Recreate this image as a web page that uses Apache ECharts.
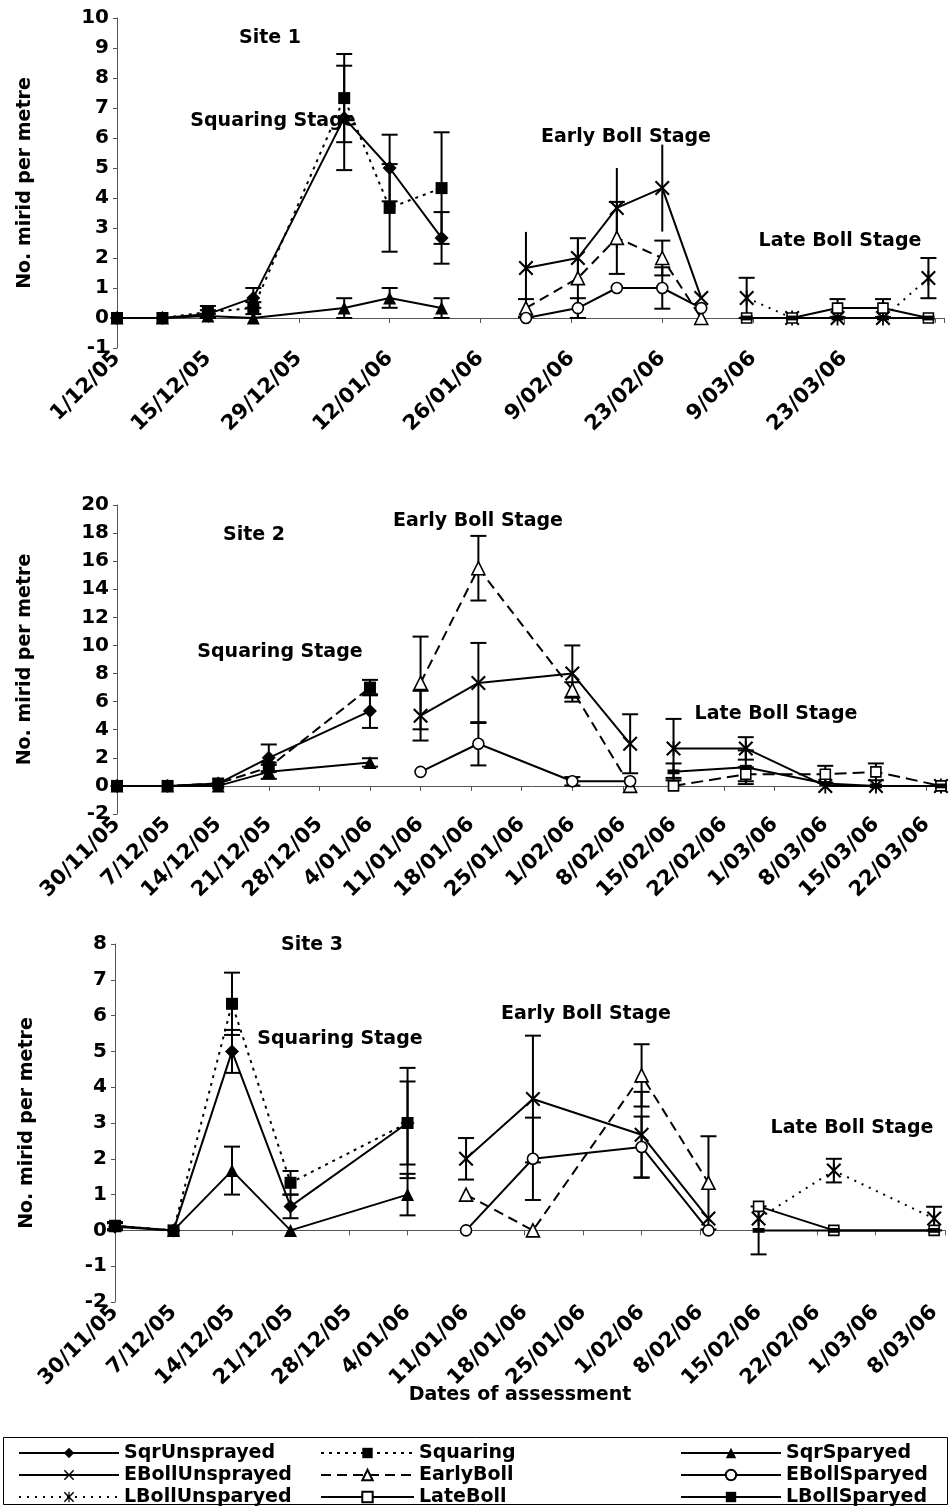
<!DOCTYPE html>
<html>
<head>
<meta charset="utf-8">
<script src="https://cdn.jsdelivr.net/npm/echarts@6/dist/echarts.min.js"></script>
<style>
html,body{margin:0;padding:0;background:#fff;}
#chart{width:951px;height:1506px;}
</style>
</head>
<body>
<div id="chart"></div>
<script>
// ---------------- DATA ----------------
// x values are days after the first tick date of each site's axis
// Site 1 (axis starts 1/12/05, ticks every 14 days)
const s1TickLabels = ['1/12/05','15/12/05','29/12/05','12/01/06','26/01/06','9/02/06','23/02/06','9/03/06','23/03/06'];
const s1SqrDays = [0, 7, 14, 21, 35, 42, 50];
const s1SqrUnsprayed   = [0, 0, 0.13, 0.67, 6.67, 5.00, 2.67];
const s1SqrUnsprayedSE = [0, 0, 0.13, 0.33, 1.74, 1.11, 0.86];
const s1Squaring       = [0, 0, 0.20, 0.33, 7.33, 3.67, 4.33];
const s1SquaringSE     = [0, 0, 0.20, 0.20, 1.47, 1.46, 1.86];
const s1SqrSparyed     = [0, 0, 0.07, 0, 0.33, 0.67, 0.33];
const s1SqrSparyedSE   = [0, 0, 0.07, 0, 0.33, 0.33, 0.33];
const s1EbDays = [63, 71, 77, 84, 90];
const s1EBollUnsprayed   = [1.67, 2.00, 3.67, 4.33, 0.67];
const s1EBollUnsprayedSE = [1.20, 0.58, 1.33, 1.45, 0];
const s1EarlyBoll        = [0.33, 1.33, 2.67, 2.00, 0];
const s1EarlyBollSE      = [0.30, 1.33, 1.20, 0.58, 0];
const s1EBollSparyed     = [0, 0.33, 1.00, 1.00, 0.33];
const s1EBollSparyedSE   = [0, 0.33, 0, 0.69, 0];
const s1LbDays = [97, 104, 111, 118, 125];
const s1LBollUnsparyed   = [0.67, 0, 0, 0, 1.33];
const s1LBollUnsparyedSE = [0.67, 0, 0, 0, 0.67];
const s1LateBoll         = [0, 0, 0.33, 0.33, 0];
const s1LateBollSE       = [0, 0, 0.30, 0.30, 0];
const s1LBollSparyed     = [0, 0, 0, 0, 0];
const s1LBollSparyedSE   = [0, 0, 0, 0, 0];

// Site 2 (axis starts 30/11/05, ticks every 7 days)
const s2TickLabels = ['30/11/05','7/12/05','14/12/05','21/12/05','28/12/05','4/01/06','11/01/06','18/01/06','25/01/06','1/02/06','8/02/06','15/02/06','22/02/06','1/03/06','8/03/06','15/03/06','22/03/06'];
const s2SqrDays = [0, 7, 14, 21, 35];
const s2SqrUnsprayed   = [0, 0, 0.17, 2.00, 5.33];
const s2SqrUnsprayedSE = [0, 0, 0, 0.95, 1.20];
const s2Squaring       = [0, 0, 0.17, 1.33, 7.00];
const s2SquaringSE     = [0, 0, 0, 0.33, 0.55];
const s2SqrSparyed     = [0, 0, 0, 1.00, 1.67];
const s2SqrSparyedSE   = [0, 0, 0, 0.50, 0.30];
const s2EbDays = [42, 50, 63, 71];
const s2EBollUnsprayed   = [5.00, 7.33, 8.00, 3.00];
const s2EBollUnsprayedSE = [1.77, 2.85, 2.00, 2.10];
const s2EarlyBoll        = [7.33, 15.50, 6.83, 0];
const s2EarlyBollSE      = [3.30, 2.30, 0.55, 0];
const s2EBollSparyed     = [1.00, 3.00, 0.33, 0.33];
const s2EBollSparyedSE   = [0, 1.54, 0.30, 0];
const s2LbDays = [77, 87, 98, 105, 114];
const s2LBollUnsparyed   = [2.67, 2.67, 0, 0, 0];
const s2LBollUnsparyedSE = [2.10, 0.80, 0, 0, 0];
const s2LateBoll         = [0, 0.83, 0.83, 1.00, 0];
const s2LateBollSE       = [0, 0.50, 0.60, 0.60, 0];
const s2LBollSparyed     = [1.00, 1.33, 0.17, 0, 0];
const s2LBollSparyedSE   = [0.60, 1.20, 0, 0, 0];

// Site 3 (axis starts 30/11/05, ticks every 7 days)
const s3TickLabels = ['30/11/05','7/12/05','14/12/05','21/12/05','28/12/05','4/01/06','11/01/06','18/01/06','25/01/06','1/02/06','8/02/06','15/02/06','22/02/06','1/03/06','8/03/06'];
const s3SqrDays = [0, 7, 14, 21, 35];
const s3SqrUnsprayed   = [0.10, 0, 5.00, 0.67, 3.00];
const s3SqrUnsprayedSE = [0.10, 0, 0.60, 0.33, 1.16];
const s3Squaring       = [0.13, 0, 6.33, 1.33, 3.00];
const s3SquaringSE     = [0.10, 0, 0.87, 0.33, 1.54];
const s3SqrSparyed     = [0.13, 0, 1.67, 0, 1.00];
const s3SqrSparyedSE   = [0.10, 0, 0.67, 0, 0.58];
const s3EbDays = [42, 50, 63, 71];
const s3EBollUnsprayed   = [2.00, 3.67, 2.67, 0.33];
const s3EBollUnsprayedSE = [0.58, 1.77, 1.20, 0];
const s3EarlyBoll        = [1.00, 0, 4.33, 1.33];
const s3EarlyBollSE      = [0, 0, 0.87, 1.30];
const s3EBollSparyed     = [0, 2.00, 2.33, 0];
const s3EBollSparyedSE   = [0, 1.15, 0.85, 0];
const s3LbDays = [77, 86, 98];
const s3LBollUnsparyed   = [0.33, 1.67, 0.33];
const s3LBollUnsparyedSE = [0, 0.33, 0.33];
const s3LateBoll         = [0.67, 0, 0];
const s3LateBollSE       = [0, 0, 0];
const s3LBollSparyed     = [0, 0, 0];
const s3LBollSparyedSE   = [0.67, 0, 0];

const legendCol1 = ['SqrUnsprayed', 'EBollUnsprayed', 'LBollUnsparyed'];
const legendCol2 = ['Squaring', 'EarlyBoll', 'LateBoll'];
const legendCol3 = ['SqrSparyed', 'EBollSparyed', 'LBollSparyed'];

// ---------------- STYLE ----------------
const FONT = '"DejaVu Sans", "Liberation Sans", sans-serif';
const X_PATH = 'path://M0,1L1,0L5,4L9,0L10,1L6,5L10,9L9,10L5,6L1,10L0,9L4,5Z';
const AST_PATH = 'path://M0,1L1,0L5,4L9,0L10,1L6,5L10,9L9,10L5,6L1,10L0,9L4,5Z M4.4,0L5.6,0L5.6,10L4.4,10Z';
const BAR_PATH = 'path://M0,0L10,0L10,4L0,4Z';
const BASE_STYLE = {
  SqrUnsprayed:   {symbol: 'diamond',  size: 14, fill: '#000', line: 'solid'},
  Squaring:       {symbol: 'rect',     size: 12, fill: '#000', line: [3, 5]},
  SqrSparyed:     {symbol: 'triangle', size: 13, fill: '#000', line: 'solid'},
  EBollUnsprayed: {symbol: X_PATH,     size: 15, fill: '#000', line: 'solid'},
  EarlyBoll:      {symbol: 'triangle', size: 13, fill: '#fff', line: [10, 6]},
  EBollSparyed:   {symbol: 'circle',   size: 11, fill: '#fff', line: 'solid'},
  LBollUnsparyed: {symbol: AST_PATH,   size: 15, fill: '#000', line: [2, 6]},
  LateBoll:       {symbol: 'rect',     size: 10, fill: '#fff', line: 'solid'},
  LBollSparyed:   {symbol: BAR_PATH,   size: 12, fill: '#000', line: 'solid'}
};
const PANEL_LINE = [
  {},
  {Squaring: [10, 5], LateBoll: [12, 6], LBollUnsparyed: 'solid'},
  {}
];
const CAPS = [
  {EBollUnsprayed: false},
  {},
  {}
];

// ---------------- BUILD ----------------
const panels = [
  {
    groups: [
      ['SqrUnsprayed', s1SqrDays, s1SqrUnsprayed, s1SqrUnsprayedSE],
      ['Squaring', s1SqrDays, s1Squaring, s1SquaringSE],
      ['SqrSparyed', s1SqrDays, s1SqrSparyed, s1SqrSparyedSE],
      ['EBollUnsprayed', s1EbDays, s1EBollUnsprayed, s1EBollUnsprayedSE],
      ['EarlyBoll', s1EbDays, s1EarlyBoll, s1EarlyBollSE],
      ['EBollSparyed', s1EbDays, s1EBollSparyed, s1EBollSparyedSE],
      ['LBollUnsparyed', s1LbDays, s1LBollUnsparyed, s1LBollUnsparyedSE],
      ['LateBoll', s1LbDays, s1LateBoll, s1LateBollSE],
      ['LBollSparyed', s1LbDays, s1LBollSparyed, s1LBollSparyedSE]
    ],
    ticks: s1TickLabels, interval: 14, xMax: 127.4, yMin: -1, yMax: 10, yInt: 1,
    grid: {left: 117, top: 18, width: 827, height: 330}, nameGap: 82
  },
  {
    groups: [
      ['SqrUnsprayed', s2SqrDays, s2SqrUnsprayed, s2SqrUnsprayedSE],
      ['Squaring', s2SqrDays, s2Squaring, s2SquaringSE],
      ['SqrSparyed', s2SqrDays, s2SqrSparyed, s2SqrSparyedSE],
      ['EBollUnsprayed', s2EbDays, s2EBollUnsprayed, s2EBollUnsprayedSE],
      ['EarlyBoll', s2EbDays, s2EarlyBoll, s2EarlyBollSE],
      ['EBollSparyed', s2EbDays, s2EBollSparyed, s2EBollSparyedSE],
      ['LBollUnsparyed', s2LbDays, s2LBollUnsparyed, s2LBollUnsparyedSE],
      ['LateBoll', s2LbDays, s2LateBoll, s2LateBollSE],
      ['LBollSparyed', s2LbDays, s2LBollSparyed, s2LBollSparyedSE]
    ],
    ticks: s2TickLabels, interval: 7, xMax: 114.7, yMin: -2, yMax: 20, yInt: 2,
    grid: {left: 117, top: 505, width: 829, height: 309}, nameGap: 82
  },
  {
    groups: [
      ['SqrUnsprayed', s3SqrDays, s3SqrUnsprayed, s3SqrUnsprayedSE],
      ['Squaring', s3SqrDays, s3Squaring, s3SquaringSE],
      ['SqrSparyed', s3SqrDays, s3SqrSparyed, s3SqrSparyedSE],
      ['EBollUnsprayed', s3EbDays, s3EBollUnsprayed, s3EBollUnsprayedSE],
      ['EarlyBoll', s3EbDays, s3EarlyBoll, s3EarlyBollSE],
      ['EBollSparyed', s3EbDays, s3EBollSparyed, s3EBollSparyedSE],
      ['LBollUnsparyed', s3LbDays, s3LBollUnsparyed, s3LBollUnsparyedSE],
      ['LateBoll', s3LbDays, s3LateBoll, s3LateBollSE],
      ['LBollSparyed', s3LbDays, s3LBollSparyed, s3LBollSparyedSE]
    ],
    ticks: s3TickLabels, interval: 7, xMax: 99.3, yMin: -2, yMax: 8, yInt: 1,
    grid: {left: 115, top: 944, width: 830, height: 358}, nameGap: 78
  }
];

function renderErr(params, api) {
  const x = api.value(0), lo = api.value(1), hi = api.value(2), cap = api.value(3);
  const a = api.coord([x, lo]), b = api.coord([x, hi]);
  const st = {stroke: '#000', lineWidth: 2};
  const ch = [{type: 'line', shape: {x1: a[0], y1: a[1], x2: b[0], y2: b[1]}, style: st}];
  if (cap) {
    ch.push({type: 'line', shape: {x1: a[0] - 8, y1: a[1], x2: a[0] + 8, y2: a[1]}, style: st});
    ch.push({type: 'line', shape: {x1: b[0] - 8, y1: b[1], x2: b[0] + 8, y2: b[1]}, style: st});
  }
  return {type: 'group', children: ch};
}

const grids = [], xAxes = [], yAxes = [], series = [];
const xLabelStyle = {fontFamily: FONT, fontWeight: 'bold', fontSize: 21, color: '#000'};
const yLabelStyle = {fontFamily: FONT, fontWeight: 'bold', fontSize: 20, color: '#000'};

panels.forEach((p, pi) => {
  grids.push(p.grid);
  xAxes.push({
    type: 'value', gridIndex: pi, min: 0, max: p.xMax, interval: p.interval,
    splitLine: {show: false},
    axisLine: {onZero: true, lineStyle: {color: '#555', width: 1}},
    axisTick: {show: true, length: 5, lineStyle: {color: '#555'}},
    axisLabel: Object.assign({
      rotate: 45, margin: 7, showMaxLabel: true,
      formatter: (v) => {
        const k = v / p.interval;
        if (Math.abs(k - Math.round(k)) > 0.01) return '';
        return p.ticks[Math.round(k)] || '';
      }
    }, xLabelStyle)
  });
  yAxes.push({
    type: 'value', gridIndex: pi, min: p.yMin, max: p.yMax, interval: p.yInt,
    splitLine: {show: false},
    axisLine: {show: true, onZero: false, lineStyle: {color: '#555', width: 1}},
    axisTick: {show: true, length: 4, lineStyle: {color: '#555'}},
    axisLabel: Object.assign({margin: 8}, yLabelStyle),
    name: 'No. mirid per metre', nameLocation: 'middle', nameGap: p.nameGap,
    nameTextStyle: {fontFamily: FONT, fontWeight: 'bold', fontSize: 19, color: '#000'}
  });
  p.groups.forEach(([name, days, vals, se]) => {
    const st = BASE_STYLE[name];
    const lineType = (PANEL_LINE[pi][name] !== undefined) ? PANEL_LINE[pi][name] : st.line;
    series.push({
      type: 'line', name: name, xAxisIndex: pi, yAxisIndex: pi,
      data: days.map((d, i) => [d, vals[i]]),
      symbol: st.symbol, symbolSize: st.size, symbolKeepAspect: true, showSymbol: true,
      itemStyle: {color: st.fill, borderColor: '#000', borderWidth: st.fill === '#fff' ? 1.6 : 0},
      lineStyle: {color: '#000', width: 2, type: lineType},
      z: 3, animation: false
    });
    const withCaps = CAPS[pi][name] !== false;
    const errData = [];
    days.forEach((d, i) => { if (se[i] > 0) errData.push([d, vals[i] - se[i], vals[i] + se[i], withCaps ? 1 : 0]); });
    if (errData.length) {
      series.push({
        type: 'custom', name: name + ' SE', xAxisIndex: pi, yAxisIndex: pi,
        renderItem: renderErr, data: errData, encode: {x: 0, y: [1, 2]},
        silent: true, z: 2, animation: false
      });
    }
  });
});

function label(text, x, y, size) {
  return {type: 'text', x: x, y: y, z: 1, silent: true,
    style: {text: text, fill: '#000', font: 'bold ' + (size || 19) + 'px ' + FONT, align: 'center', verticalAlign: 'middle'}};
}

// one legend component per entry so the 3x3 block keeps its columns
const legendText = {fontFamily: FONT, fontWeight: 'bold', fontSize: 19, lineHeight: 22, color: '#000'};
const legendCols = [[legendCol1, 18, 100], [legendCol2, 320, 93], [legendCol3, 680, 100]];
const legendRowTops = [1442, 1464, 1486];
const legends = [];
legendCols.forEach(([names, left, w]) => {
  names.forEach((n, r) => {
    legends.push({data: [n], left: left, top: legendRowTops[r], orient: 'horizontal', itemWidth: w, itemHeight: 13,
      padding: 0, selectedMode: false, textStyle: legendText});
  });
});

const option = {
  backgroundColor: '#fff',
  animation: false,
  grid: grids, xAxis: xAxes, yAxis: yAxes, series: series,
  legend: legends,
  graphic: [
    label('Site 1', 270, 38), label('Squaring Stage', 273, 121),
    label('Early Boll Stage', 626, 137), label('Late Boll Stage', 840, 241),
    label('Site 2', 254, 535), label('Squaring Stage', 280, 652),
    label('Early Boll Stage', 478, 521), label('Late Boll Stage', 776, 714),
    label('Site 3', 312, 945), label('Squaring Stage', 340, 1039),
    label('Early Boll Stage', 586, 1014), label('Late Boll Stage', 852, 1128),
    label('Dates of assessment', 520, 1395, 19),
    {type: 'rect', z: 0, silent: true, shape: {x: 3.5, y: 1437.5, width: 944, height: 67},
      style: {fill: 'none', stroke: '#000', lineWidth: 1}}
  ]
};

const chart = echarts.init(document.getElementById('chart'), null, {renderer: 'canvas'});
chart.setOption(option);
</script>
</body>
</html>
